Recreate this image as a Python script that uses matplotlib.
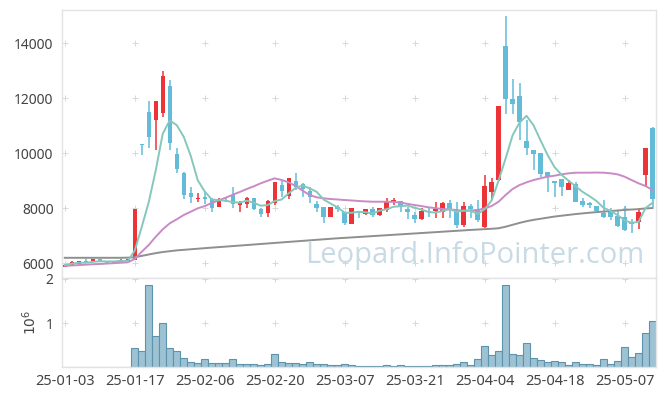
import matplotlib
matplotlib.use("Agg")
import matplotlib.pyplot as plt
import numpy as np
import pandas as pd

dates = ["25-01-03", "25-01-17", "25-02-06", "25-02-20", "25-03-07",
         "25-03-21", "25-04-04", "25-04-18", "25-05-07"]
date_pos = [0, 10, 20, 30, 40, 50, 60, 70, 80]

open_ = [5850, 5940, 5976, 6073, 6073, 6145, 6073, 5990, 6050, 6025,
         6110, 10320, 11480, 11213, 11466, 12436, 9964, 9273, 8545, 8316,
         8411, 8327, 8047, 8330, 8473, 8109, 8134, 8375, 7975, 7807,
         8171, 8824, 8447, 8982, 8873, 8618, 8145, 8047, 7662, 8047,
         7866, 7420, 7870, 7771, 7953, 7745, 7927, 8229, 8255, 7964,
         7745, 7600, 7870, 7900, 7866, 8171, 7927, 7382, 8073, 7953,
         7320, 8593, 9018, 13890, 11964, 12073, 10436, 10109, 9990, 9320,
         8993, 9055, 8655, 8873, 8265, 8193, 8073, 7830, 7866, 7709,
         7684, 7465, 7502, 9200, 10898]
high = [5960, 6070, 6073, 6156, 6156, 6145, 6073, 6073, 6156, 6133,
        7960, 10330, 11890, 11900, 12980, 12650, 10170, 9310, 8775, 8556,
        8593, 8375, 8375, 8375, 8752, 8255, 8400, 8375, 8000, 8280,
        8945, 8970, 9100, 9262, 8920, 8775, 8265, 8047, 8047, 8100,
        7866, 7990, 7870, 7953, 8047, 7989, 8353, 8375, 8255, 8047,
        7866, 8000, 8047, 8230, 8229, 8291, 8229, 8229, 8134, 8291,
        9200, 9080, 11709, 14982, 12680, 12535, 11200, 10109, 9990, 9320,
        8993, 9055, 9018, 8930, 8360, 8230, 8073, 8291, 7989, 7927,
        8073, 7589, 7989, 10170, 10960]
low = [5840, 5940, 5976, 6011, 6073, 6060, 5990, 5990, 6050, 6025,
       6110, 9940, 10190, 10110, 11320, 10110, 9262, 8316, 8171, 8229,
       8135, 7866, 8047, 8230, 8011, 7844, 7990, 7910, 7684, 7662,
       8100, 8411, 8316, 8655, 8411, 8193, 7866, 7465, 7662, 7870,
       7370, 7420, 7620, 7735, 7684, 7720, 7866, 8109, 7866, 7600,
       7465, 7560, 7684, 7650, 7625, 7625, 7262, 7320, 7625, 7502,
       7262, 8291, 9000, 11418, 11418, 10473, 9927, 9382, 9138, 8593,
       8411, 8436, 8655, 8229, 8030, 7989, 7830, 7625, 7564, 7320,
       7164, 7102, 7225, 8753, 8047]
close = [5930, 6025, 6073, 6011, 6156, 6060, 5990, 6073, 6110, 6133,
         7960, 10280, 10590, 11880, 12800, 10375, 9418, 8484, 8411, 8375,
         8316, 7990, 8327, 8315, 8134, 8207, 8353, 7953, 7771, 8255,
         8945, 8618, 9079, 8775, 8680, 8411, 8011, 7662, 8047, 7964,
         7465, 7990, 7850, 7953, 7745, 7989, 8255, 8291, 8047, 7866,
         7600, 7902, 7850, 7950, 8171, 7953, 7382, 8073, 7953, 7564,
         8800, 8960, 11709, 11964, 11782, 11140, 10170, 9964, 9236, 9138,
         8920, 8775, 8898, 8229, 8120, 8120, 7902, 7662, 7684, 7345,
         7200, 7407, 7866, 10170, 8316]
volume = [0, 0, 0, 0, 0, 0, 0, 0, 0, 0,
          0.43, 0.37, 1.85, 0.71, 1.00, 0.43, 0.37, 0.20, 0.12, 0.09,
          0.18, 0.09, 0.09, 0.09, 0.18, 0.07, 0.07, 0.07, 0.05, 0.07,
          0.30, 0.12, 0.09, 0.09, 0.07, 0.12, 0.07, 0.07, 0.05, 0.05,
          0.07, 0.05, 0.02, 0.02, 0.02, 0.02, 0.05, 0.02, 0.05, 0.02,
          0.02, 0.02, 0.02, 0.05, 0.05, 0.05, 0.07, 0.11, 0.05, 0.18,
          0.48, 0.27, 0.36, 1.85, 0.30, 0.27, 0.55, 0.20, 0.16, 0.11,
          0.14, 0.11, 0.05, 0.11, 0.07, 0.07, 0.05, 0.18, 0.07, 0.14,
          0.45, 0.23, 0.32, 0.77, 1.05]
ma20 = [5900, 5910, 5925, 5940, 5955, 5965, 5980, 5995, 6010, 6025,
        6145, 6411, 6655, 6956, 7225, 7444, 7589, 7745, 7866, 7989,
        8070, 8182, 8280, 8375, 8484, 8582, 8691, 8789, 8898, 8993,
        9080, 9018, 8934, 8800, 8629, 8473, 8389, 8353, 8327, 8310,
        8291, 8275, 8255, 8240, 8229, 8229, 8229, 8220, 8200, 8150,
        8109, 8070, 8025, 7995, 7964, 7950, 7925, 7902, 7910, 7927,
        7989, 8073, 8229, 8473, 8691, 8836, 8934, 9018, 9080, 9140,
        9176, 9225, 9262, 9284, 9285, 9285, 9290, 9285, 9262, 9225,
        9140, 9018, 8898, 8800, 8655]
ma60 = [6190, 6190, 6190, 6190, 6190, 6190, 6190, 6190, 6190, 6195,
        6210, 6260, 6310, 6360, 6400, 6430, 6460, 6480, 6500, 6520,
        6540, 6560, 6578, 6597, 6616, 6635, 6654, 6673, 6692, 6711,
        6730, 6749, 6768, 6787, 6806, 6825, 6844, 6863, 6882, 6900,
        6915, 6931, 6947, 6963, 6979, 6995, 7011, 7027, 7043, 7059,
        7075, 7091, 7107, 7123, 7139, 7155, 7171, 7187, 7203, 7218,
        7232, 7245, 7265, 7320, 7390, 7460, 7520, 7570, 7610, 7650,
        7690, 7720, 7750, 7780, 7805, 7830, 7850, 7870, 7890, 7910,
        7930, 7945, 7960, 7985, 8000]

UP = "#ec3338"
DOWN = "#62bcd8"
TXT = "#444444"
GRID = "#d8d8d8"
SPINE = "#e3e3e3"

x = np.arange(len(close))
o = np.array(open_, float)
c = np.array(close, float)
h = np.array(high, float)
l = np.array(low, float)
colors = [UP if cc >= oo else DOWN for oo, cc in zip(o, c)]
ma5 = pd.Series(c).rolling(5, min_periods=1).mean().values

fig = plt.figure(figsize=(6.65, 3.96), dpi=100)
ax1 = fig.add_axes([0.0932, 0.2992, 0.8933, 0.6755])
ax2 = fig.add_axes([0.0932, 0.0725, 0.8933, 0.2267], sharex=ax1)

xlim = (-0.4, 84.5)
price_ticks = [6000, 8000, 10000, 12000, 14000]

# grid crosses
gx, gy = np.meshgrid(date_pos, price_ticks)
ax1.scatter(gx.ravel(), gy.ravel(), marker="+", s=16, color=GRID, lw=0.7, zorder=0)

# candles
ax1.vlines(x, l, h, colors=colors, lw=1.1, zorder=2)
body_h = np.maximum(np.abs(c - o), 25)
ax1.bar(x, body_h, bottom=np.minimum(o, c), width=0.62, color=colors, zorder=3, linewidth=0)

# moving averages
ax1.plot(x, ma60, color="#8f8f8f", lw=1.4, zorder=4)
ax1.plot(x, ma20, color="#c98ac6", lw=1.4, zorder=4)
ax1.plot(x, ma5, color="#86c7bb", lw=1.4, zorder=4)

ax1.text(0.6955, 0.082, "Leopard.InfoPointer.com", transform=ax1.transAxes,
         ha="center", va="center", fontsize=21, family="Open Sans",
         color="#c2d7e2", alpha=0.9, zorder=5)

ax1.set_xlim(*xlim)
ax1.set_ylim(5473, 15200)
ax1.set_yticks(price_ticks)
ax1.set_yticklabels([str(t) for t in price_ticks])
ax1.tick_params(axis="y", length=0, labelsize=10, labelcolor=TXT, pad=6)
ax1.tick_params(axis="x", length=0, labelbottom=False)

# volume
vx, vy = np.meshgrid(date_pos, [1, 2])
ax2.scatter(vx.ravel(), vy.ravel(), marker="+", s=16, color=GRID, lw=0.7, zorder=0)
ax2.bar(x, volume, width=1.0, color="#9dc2d3", edgecolor="#5d93ac", linewidth=0.8, zorder=2)
ax2.set_ylim(0, 2.03)
ax2.set_yticks([1, 2])
ax2.set_yticklabels(["1", "2"])
ax2.tick_params(axis="y", length=0, labelsize=10, labelcolor=TXT, pad=6)
ax2.set_xticks(date_pos)
ax2.set_xticklabels(dates)
ax2.tick_params(axis="x", length=0, labelsize=10.5, labelcolor=TXT, pad=5)
ax2.text(-0.055, 0.5, r"$10^6$", rotation=90, transform=ax2.transAxes,
         ha="center", va="center", fontsize=10, color=TXT)

for ax in (ax1, ax2):
    for sp in ax.spines.values():
        sp.set_color(SPINE)
        sp.set_linewidth(1.0)
    ax.set_facecolor("white")

for t in ax1.get_yticklabels() + ax2.get_yticklabels() + ax2.get_xticklabels():
    t.set_family("Noto Sans")

fig.savefig("out.png", dpi=100)
